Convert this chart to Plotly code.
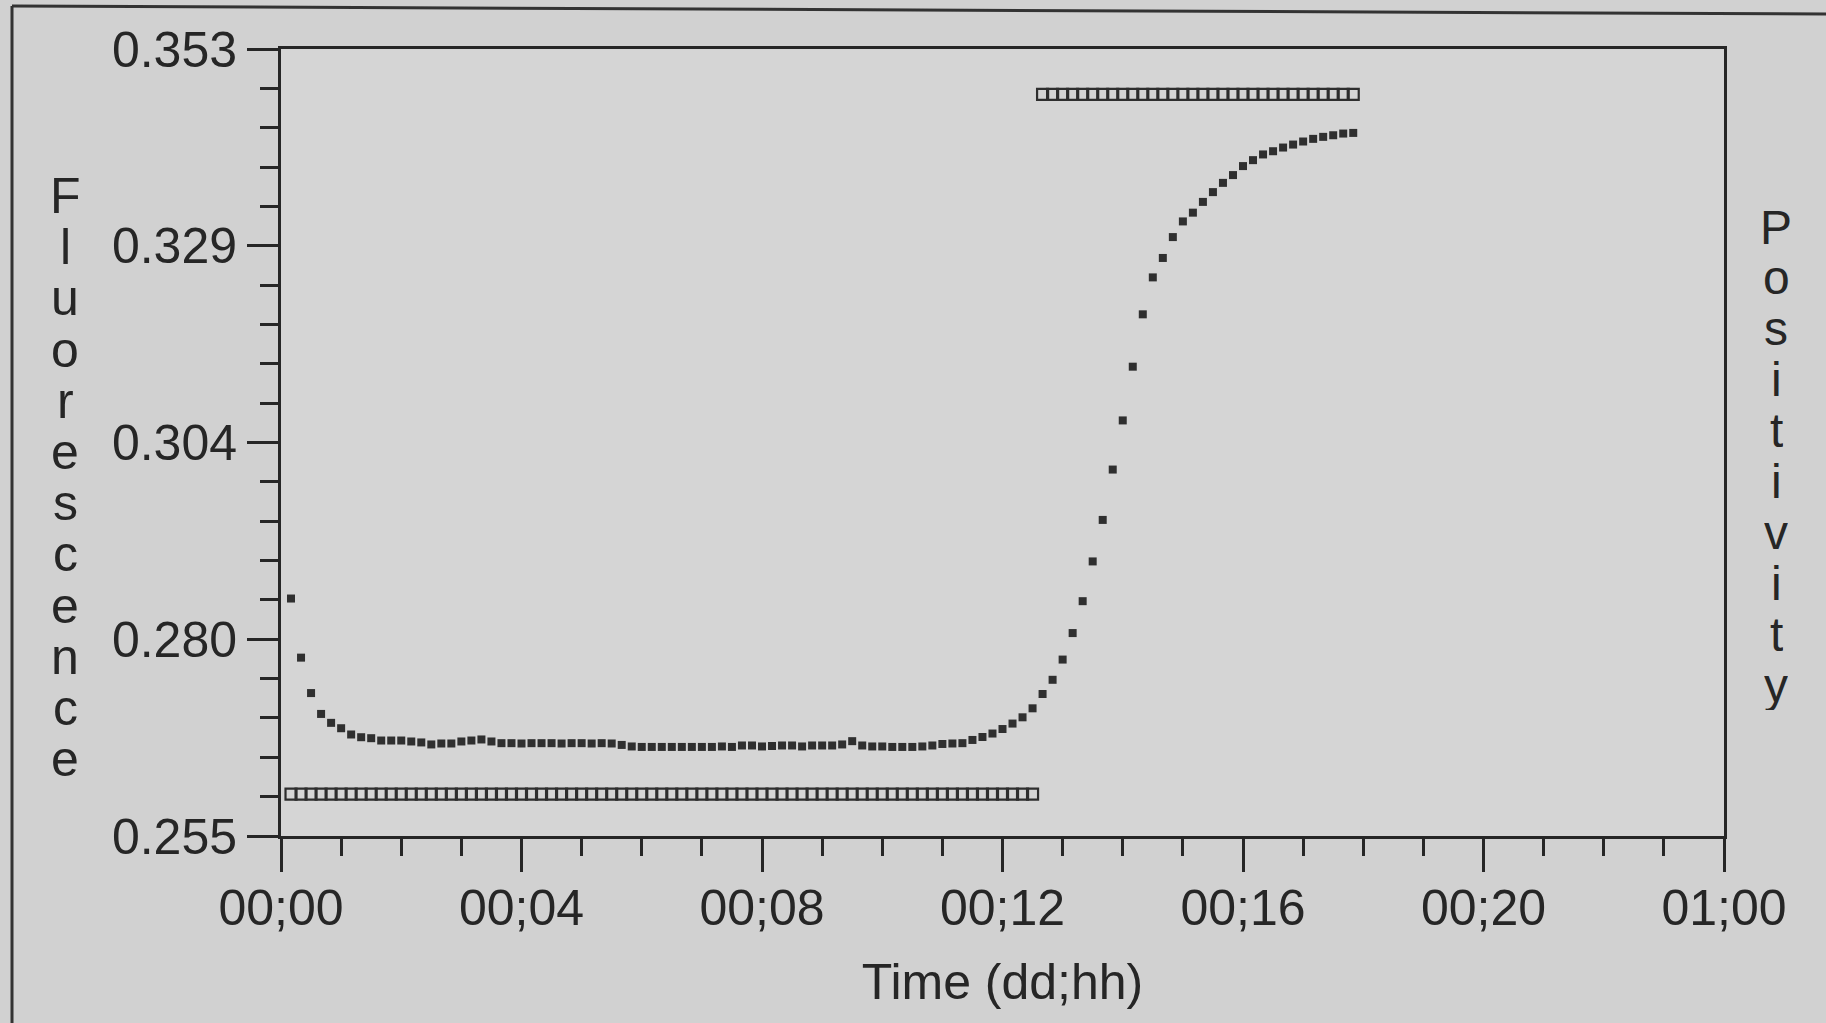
import plotly.graph_objects as go

# Fluorescence readings, one every 10 minutes starting at 00;00:10
fluorescence = [
    0.28457, 0.27721, 0.27280, 0.27020, 0.26909, 0.26842, 0.26764, 0.26730, 0.26718, 0.26689,
    0.26689, 0.26689, 0.26677, 0.26665, 0.26640, 0.26652, 0.26652, 0.26677, 0.26689, 0.26702,
    0.26677, 0.26656, 0.26656, 0.26652, 0.26656, 0.26656, 0.26656, 0.26652, 0.26656, 0.26656,
    0.26652, 0.26656, 0.26652, 0.26634, 0.26615, 0.26609, 0.26609, 0.26609, 0.26609, 0.26609,
    0.26609, 0.26609, 0.26609, 0.26615, 0.26609, 0.26627, 0.26627, 0.26615, 0.26621, 0.26627,
    0.26627, 0.26615, 0.26627, 0.26627, 0.26627, 0.26640, 0.26681, 0.26627, 0.26615, 0.26615,
    0.26609, 0.26609, 0.26609, 0.26615, 0.26627, 0.26646, 0.26652, 0.26656, 0.26696, 0.26733,
    0.26776, 0.26832, 0.26900, 0.26978, 0.27090, 0.27268, 0.27445, 0.27697, 0.28027, 0.28424,
    0.28919, 0.29436, 0.30063, 0.30675, 0.31344, 0.31996, 0.32456, 0.32698, 0.32958, 0.33153,
    0.33262, 0.33396, 0.33518, 0.33633, 0.33730, 0.33842, 0.33916, 0.33987, 0.34027, 0.34073,
    0.34110, 0.34148, 0.34181, 0.34206, 0.34226, 0.34247, 0.34255,
]
# Positivity status per reading (0 = negative, 1 = positive)
positivity = [0] * 75 + [1] * 32

reading_interval_min = 10
x_tick_vals = [0, 4, 8, 12, 16, 20, 24]
x_tick_text = ["00;00", "00;04", "00;08", "00;12", "00;16", "00;20", "01;00"]
y_tick_vals = [0.255, 0.2795, 0.304, 0.3285, 0.353]
y_tick_text = ["0.255", "0.280", "0.304", "0.329", "0.353"]
left_label = "Fluorescence"
right_label = "Positivity"
x_title = "Time (dd;hh)"

hours = [(i + 1) * reading_interval_min / 60 for i in range(len(fluorescence))]
pos_hours = [(i + 1) * reading_interval_min / 60 for i in range(len(positivity))]

INK = "#262626"
FONT = "Liberation Sans, Arial, sans-serif"
W, H = 1826, 1023
L, R, T, B = 281, 102, 49, 187
PW, PH = W - L - R, H - T - B

def px_to_paper(px, py):
    return (px - L) / PW, (H - B - py) / PH

fig = go.Figure()
fig.add_trace(go.Scatter(
    x=pos_hours, y=positivity, yaxis="y2", mode="markers",
    marker=dict(symbol="square-open", size=11, color="#2e2e2e", line=dict(width=2.2)),
    showlegend=False, hoverinfo="skip",
))
fig.add_trace(go.Scatter(
    x=hours, y=fluorescence, mode="markers",
    marker=dict(symbol="square", size=8, color="#2f2f2f"),
    showlegend=False,
))

annotations = []
for i, ch in enumerate(left_label):
    xp, yp = px_to_paper(65, 196 + i * 51.2)
    annotations.append(dict(x=xp, y=yp, xref="paper", yref="paper", text=ch, showarrow=False,
                            height=50, font=dict(family=FONT, size=50, color=INK),
                            xanchor="center", yanchor="middle"))
for i, ch in enumerate(right_label):
    xp, yp = px_to_paper(1776, 227 + i * 50.9)
    annotations.append(dict(x=xp, y=yp, xref="paper", yref="paper", text=ch, showarrow=False,
                            height=49, font=dict(family=FONT, size=48, color=INK),
                            xanchor="center", yanchor="middle"))

x0, y0 = px_to_paper(12, 1023)
x1, y1 = px_to_paper(12, 6)
x2, y2 = px_to_paper(1826, 14)
shapes = [
    dict(type="line", xref="paper", yref="paper", x0=x0, y0=y0, x1=x1, y1=y1, line=dict(color="#333333", width=3)),
    dict(type="line", xref="paper", yref="paper", x0=x1, y0=y1, x1=x2, y1=y2, line=dict(color="#333333", width=3)),
]

fig.update_layout(
    width=W, height=H,
    margin=dict(l=L, r=R, t=T, b=B, pad=0),
    paper_bgcolor="#d1d1d1", plot_bgcolor="#d5d5d5",
    font=dict(family=FONT, color=INK),
    xaxis=dict(
        range=[0, 24], tickmode="array", tickvals=x_tick_vals, ticktext=x_tick_text,
        ticks="outside", ticklen=33, tickwidth=3, tickcolor=INK,
        showline=True, linewidth=3, linecolor=INK, mirror=True,
        showgrid=False, zeroline=False, ticklabelstandoff=-7,
        tickfont=dict(size=50, family=FONT, color=INK),
        minor=dict(tick0=0, dtick=1, ticks="outside", ticklen=17, tickwidth=3, tickcolor=INK, showgrid=False),
        title=dict(text=x_title, font=dict(size=50, family=FONT, color=INK), standoff=29),
    ),
    yaxis=dict(
        range=[0.255, 0.353], tickmode="array", tickvals=y_tick_vals, ticktext=y_tick_text,
        ticks="outside", ticklen=31, tickwidth=3, tickcolor=INK,
        showline=True, linewidth=3, linecolor=INK, mirror=True,
        showgrid=False, zeroline=False,
        tickfont=dict(size=50, family=FONT, color=INK),
        minor=dict(tick0=0.255, dtick=0.0049, ticks="outside", ticklen=18, tickwidth=3, tickcolor=INK, showgrid=False),
    ),
    yaxis2=dict(overlaying="y", range=[-0.06, 1.065], visible=False),
    annotations=annotations,
    shapes=shapes,
)

fig.write_html(
    "out.html",
    config={"displayModeBar": False},
    post_script="document.body.style.margin='0';document.body.style.overflow='hidden';",
)
